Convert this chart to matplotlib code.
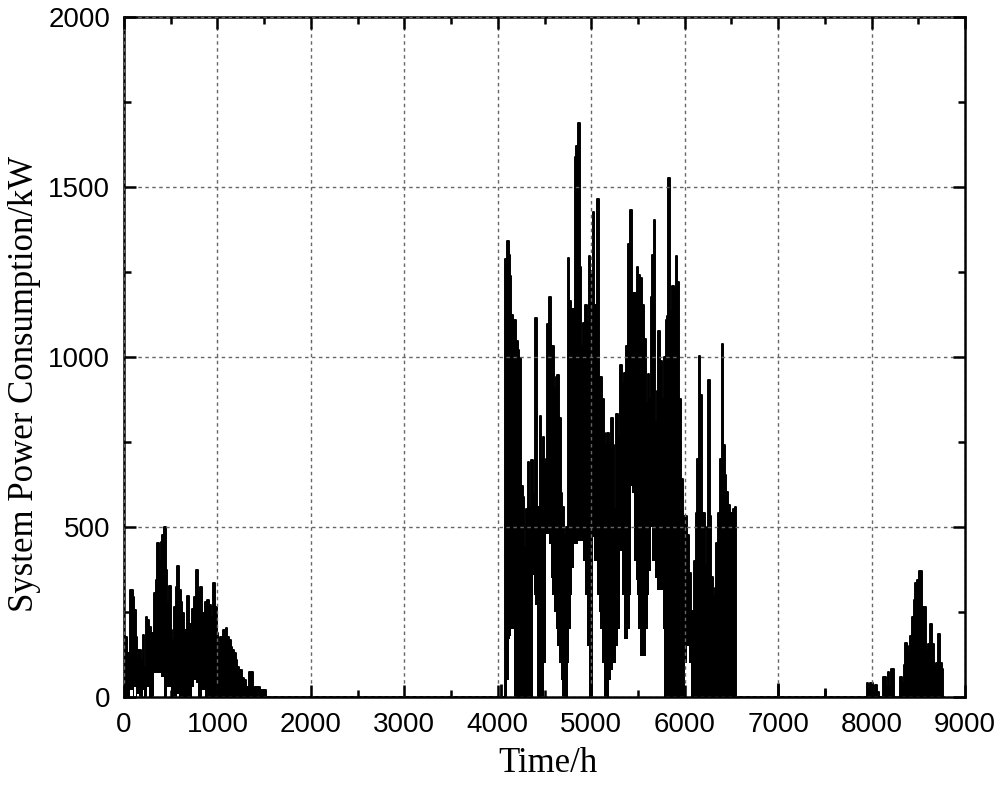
import matplotlib
matplotlib.use('Agg')
from matplotlib import pyplot as plt

# hourly profile: top and bottom of the black band
t_hours = [0, 28, 46, 82, 100, 118, 135, 153, 171, 189, 207, 225, 242, 260, 278, 296, 314,
           331, 349, 367, 385, 403, 421, 439, 456, 474, 492, 510, 528, 546, 563, 581, 599,
           617, 635, 653, 670, 688, 706, 724, 742, 760, 785, 802, 824, 849, 877, 902, 920,
           938, 963, 984, 999, 1020, 1045, 1081, 1098, 1116, 1134, 1152, 1170, 1188, 1205,
           1223, 1241, 1277, 1295, 1313, 1366, 1402, 1509, 1520,
           4070, 4085, 4105, 4125, 4140, 4152, 4170, 4187, 4205, 4222, 4240, 4255, 4276,
           4293, 4310, 4329, 4345, 4364, 4380, 4395, 4410, 4425, 4440, 4459, 4475, 4488,
           4505, 4520, 4541, 4558, 4575, 4590, 4610, 4630, 4647, 4665, 4685, 4700, 4720,
           4740, 4760, 4775, 4790, 4805, 4820, 4834, 4850, 4869, 4885, 4905, 4925, 4947,
           4965, 4980, 5000, 5015, 5025, 5045, 5071, 5090, 5105, 5124, 5140, 5160, 5180,
           5200, 5220, 5236, 5255, 5279, 5300, 5325, 5340, 5360, 5385, 5403, 5420, 5432,
           5450, 5470, 5485, 5496, 5515, 5535, 5557, 5575, 5595, 5615, 5630, 5646, 5660,
           5675, 5690, 5710, 5728, 5745, 5760, 5775, 5790, 5800, 5815, 5835, 5850, 5870,
           5895, 5914, 5932, 5950, 5978, 5995, 6015, 6039, 6057, 6074, 6095, 6110, 6126,
           6145, 6157, 6172, 6190, 6210, 6228, 6245, 6260, 6275, 6290, 6310, 6330, 6348,
           6370, 6390, 6406, 6420, 6440, 6455, 6475, 6500, 6527, 6540, 6550,
           7940, 7955, 7975, 8001, 8020, 8045, 8070, 8100, 8144, 8165, 8179, 8200, 8226,
           8245, 8290, 8315, 8335, 8350, 8365, 8385, 8400, 8420, 8440, 8458, 8475, 8500,
           8525, 8545, 8565, 8590, 8615, 8643, 8660, 8675, 8695, 8722, 8740, 8761, 8775]

upper_kw = [180, 177, 128, 315, 295, 256, 177, 138, 138, 109, 182, 89, 236, 227, 207, 187, 177,
            305, 344, 452, 403, 457, 476, 501, 373, 275, 326, 197, 168, 266, 324, 385, 315,
            280, 246, 197, 158, 297, 216, 216, 260, 295, 373, 305, 324, 246, 280, 285, 270,
            236, 334, 265, 187, 128, 177, 197, 202, 177, 168, 148, 138, 128, 109,
            89, 79, 55, 50, 30, 72, 30, 21, 0,
            0, 1287, 1340, 1300, 1237, 1123, 1042, 1109, 1048, 1020, 998, 620, 587,
            442, 553, 692, 560, 698, 598, 520, 1114, 500, 560, 826, 700, 764,
            687, 700, 1098, 1176, 1031, 1031, 909, 942, 948, 820, 600, 560, 476,
            500, 1292, 1164, 987, 1142, 1142, 1587, 1620, 1687, 1264, 1031, 1100, 1153,
            1100, 1298, 1253, 1237, 1426, 1153, 1464, 942, 942, 876, 776, 742, 776,
            742, 820, 742, 553, 831, 764, 976, 920, 953, 1031, 1331, 1431, 1431,
            1187, 1187, 1031, 1264, 1242, 1231, 1153, 1053, 864, 950, 876, 1176, 1300,
            1403, 809, 900, 1076, 987, 876, 664, 1000, 1109, 1120, 1526, 1131, 1209,
            1198, 1298, 1220, 876, 642, 531, 531, 476, 364, 253, 30, 400, 542,
            700, 1003, 887, 542, 542, 387, 500, 931, 531, 353, 298, 320, 453,
            542, 700, 1037, 742, 653, 603, 564, 542, 553, 560, 0,
            0, 42, 20, 40, 20, 34, 16, 0, 60, 30, 74, 30, 81,
            0, 0, 60, 40, 94, 158, 150, 130, 180, 234, 285, 334, 345,
            371, 266, 266, 138, 157, 215, 157, 90, 100, 184, 100, 81, 0]

lower_kw = [0, 0, 0, 20, 0, 30, 0, 10, 0, 0, 20, 0, 0, 30, 0, 0, 0,
            70, 70, 70, 70, 60, 60, 0, 0, 30, 30, 0, 0, 0, 0, 10, 0,
            0, 0, 0, 0, 0, 0, 0, 30, 50, 40, 0, 0, 20, 0, 0, 0,
            0, 0, 0, 0, 0, 0, 0, 0, 0, 0, 0, 0, 0, 0,
            0, 0, 0, 0, 0, 0, 0, 0, 0,
            0, 0, 50, 170, 180, 200, 200, 0, 0, 0, 0, 0, 0,
            0, 0, 0, 0, 0, 360, 300, 270, 0, 0, 0, 0, 0,
            100, 480, 480, 450, 350, 300, 250, 200, 150, 100, 50, 0, 0,
            0, 100, 200, 300, 380, 450, 450, 450, 460, 460, 460, 400, 300,
            150, 0, 0, 0, 470, 400, 300, 250, 200, 100, 0, 0, 0,
            50, 80, 100, 100, 150, 200, 430, 300, 170, 170, 200, 300, 620,
            600, 400, 344, 300, 200, 120, 120, 120, 200, 300, 370, 500, 400,
            400, 350, 315, 315, 315, 315, 200, 0, 0, 0, 0, 0, 0,
            0, 0, 0, 0, 0, 0, 100, 150, 100, 0, 0, 0, 0,
            0, 0, 0, 0, 0, 0, 0, 0, 0, 0, 0, 0, 0,
            0, 0, 0, 0, 0, 0, 0, 0, 0, 0, 0,
            0, 0, 0, 0, 0, 0, 0, 0, 0, 0, 0, 0, 0,
            0, 0, 0, 0, 0, 0, 0, 0, 0, 0, 0, 0, 0,
            0, 0, 0, 0, 0, 0, 0, 0, 0, 0, 0, 0, 0]

# lone short spikes
spike_hours = [4030, 7002, 7502]
spike_kw = [37, 42, 25]

x_ticks = [0, 1000, 2000, 3000, 4000, 5000, 6000, 7000, 8000, 9000]
y_ticks = [0, 500, 1000, 1500, 2000]

fig = plt.figure(figsize=(10, 7.87), dpi=100)
ax = fig.add_axes([0.124, 0.1144, 0.841, 0.864])

ax.fill_between(t_hours, lower_kw, upper_kw, step='mid', color='black', linewidth=0)
ax.plot(t_hours, upper_kw, drawstyle='steps-mid', color='black', linewidth=1.4)
ax.vlines(spike_hours, 0, spike_kw, color='black', linewidth=2)

ax.set_xlim(0, 9000)
ax.set_ylim(0, 2000)
ax.set_xticks(x_ticks)
ax.set_yticks(y_ticks)
ax.set_xticks([500 + 1000 * i for i in range(9)], minor=True)
ax.set_yticks([250, 750, 1250, 1750], minor=True)

ax.grid(True, which='major', color='#666666', linestyle=(0, (2.5, 2.5)), linewidth=1.0)
ax.set_axisbelow(False)

ax.tick_params(which='both', direction='in', top=True, right=True, width=1.8)
ax.tick_params(which='major', length=8.5, labelsize=20)
ax.tick_params(axis='x', which='major', pad=11)
ax.tick_params(axis='y', which='major', pad=10)
ax.tick_params(which='minor', length=5)
for lab in ax.get_xticklabels() + ax.get_yticklabels():
    lab.set_family('Liberation Sans')
for sp in ax.spines.values():
    sp.set_linewidth(1.8)

ax.set_xlabel('Time/h', family='Liberation Serif', fontsize=25)
ax.set_ylabel('System Power Consumption/kW', family='Liberation Serif', fontsize=25)
ax.xaxis.set_label_coords(0.504, -0.073)
ax.yaxis.set_label_coords(-0.099, 0.46)

fig.savefig('out.png', dpi=100)
